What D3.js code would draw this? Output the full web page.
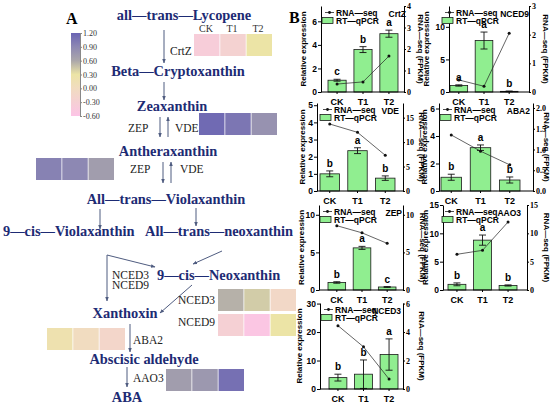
<!DOCTYPE html>
<html><head><meta charset="utf-8">
<script src="https://cdn.jsdelivr.net/npm/d3@7"></script>
<style>body{margin:0;background:#fff}svg{display:block}</style>
</head><body>
<svg id="c" width="550" height="406"></svg>
<script>
// ---------- data ----------
const groups = ["CK", "T1", "T2"];
const colorTicks = [-0.60, -0.30, 0.00, 0.30, 0.60, 0.90, 1.20];

// heatmap values (log-scaled expression), CK / T1 / T2
const heatCrtZ  = [-0.38, -0.25, 0.30];
const heatVDE   = [1.15, 1.05, 0.80];
const heatZEP   = [0.95, 0.90, 0.70];
const heatNCED3 = [0.55, 0.42, -0.10];
const heatNCED9 = [-0.30, -0.55, 0.30];
const heatABA2  = [0.20, 0.00, -0.15];
const heatAAO3  = [0.70, 0.75, 1.10];

// RT-qPCR means, errors, RNA-seq FPKM, significance letters
const qCrtZ  = [1.0, 3.6, 4.95],  eCrtZ  = [0.08, 0.25, 0.3],  sCrtZ  = [0.37, 0.47, 1.67], lCrtZ  = ["c", "b", "a"];
const qNCED9 = [1.0, 7.9, 0.1],   eNCED9 = [0.1, 1.3, 0.05],   sNCED9 = [0.42, 0.2, 2.05],  lNCED9 = ["a", "a", "b"];
const qVDE   = [1.0, 2.35, 0.75], eVDE   = [0.17, 0.17, 0.13], sVDE   = [13.7, 12.0, 7.3],  lVDE   = ["b", "a", "b"];
const qABA2  = [1.0, 3.15, 0.8],  eABA2  = [0.22, 0.2, 0.22],  sABA2  = [1.35, 0.96, 0.63], lABA2  = ["b", "a", "b"];
const qZEP   = [1.0, 5.6, 0.4],   eZEP   = [0.1, 0.2, 0.05],   sZEP   = [8.55, 7.6, 6.2],   lZEP   = ["b", "a", "c"];
const qAAO3  = [1.0, 8.8, 0.8],   eAAO3  = [0.25, 0.9, 0.1],   sAAO3  = [6.3, 7.0, 12.0],   lAAO3  = ["b", "a", "b"];
const qNCED3 = [4.0, 5.2, 12.1],  eNCED3 = [1.2, 5.0, 5.5],    sNCED3 = [4.45, 2.96, 0.7],  lNCED3 = ["b", "b", "a"];

// ---------- setup ----------
const svg = d3.select("#c");
const SERIF = "'Liberation Serif','Times New Roman',serif";
const SANS = "'Liberation Sans',Arial,sans-serif";
const NAVY = "#1d2b74";
const ARROW = "#4f5c80";

const color = d3.scaleLinear().domain(colorTicks)
  .range(["#fcc4e6", "#f5d0d4", "#f1dcc0", "#ece4a6", "#aba7aa", "#8d88b3", "#6a64b3"]);

// ---------- Panel A ----------
const A = svg.append("g");
A.append("text").attr("x", 66).attr("y", 24).text("A")
  .attr("font-family", SERIF).attr("font-weight", "bold").attr("font-size", 16);

// color bar
const cb = d3.scaleLinear().domain([-0.6, 1.2]).range([116, 33]);
const defs = svg.append("defs");
const grad = defs.append("linearGradient").attr("id", "cbg").attr("x1", 0).attr("y1", 1).attr("x2", 0).attr("y2", 0);
colorTicks.forEach(v => grad.append("stop").attr("offset", (v + 0.6) / 1.8).attr("stop-color", color(v)));
A.append("rect").attr("x", 71).attr("y", 33).attr("width", 9).attr("height", 83).attr("fill", "url(#cbg)");
const cbAx = A.append("g").attr("transform", "translate(80,0)")
  .call(d3.axisRight(cb).tickValues(colorTicks).tickFormat(d3.format(".2f")).tickSize(2).tickSizeOuter(0));
cbAx.select(".domain").attr("stroke", "#888");
cbAx.selectAll("line").attr("stroke", "#888");
cbAx.selectAll("text").attr("font-family", SERIF).attr("font-size", 8).attr("fill", "#333").attr("x", 3)
  .text(d => d3.format(".2f")(d).replace("\u2212", "-"));

// arrow marker
defs.append("marker").attr("id", "ah").attr("viewBox", "0 0 10 10").attr("refX", 9).attr("refY", 5)
  .attr("markerWidth", 4.5).attr("markerHeight", 4.5).attr("orient", "auto")
  .append("path").attr("d", "M0,1 L10,5 L0,9 z").attr("fill", ARROW);

const arrows = [
  [[164, 30], [164, 63]],
  [[164, 82], [164, 100]],
  [[160, 117], [160, 137]],
  [[168, 137], [168, 117]],
  [[163, 162], [163, 183]],
  [[171, 183], [171, 162]],
  [[100, 209], [100, 229]],
  [[196, 208], [196, 226]],
  [[107, 255], [107, 301]],
  [[107, 255], [155, 267]],
  [[222, 251], [193, 264]],
  [[192, 285], [160, 313]],
  [[130, 324], [130, 352]],
  [[127, 367], [127, 387]]
];
A.selectAll("line.arr").data(arrows).join("line")
  .attr("x1", d => d[0][0]).attr("y1", d => d[0][1]).attr("x2", d => d[1][0]).attr("y2", d => d[1][1])
  .attr("stroke", ARROW).attr("stroke-width", 1).attr("marker-end", "url(#ah)");

const compounds = [
  ["all\u2014trans\u2014Lycopene", 184, 20, "middle"],
  ["Beta\u2014Cryptoxanthin", 178, 76, "middle"],
  ["Zeaxanthin", 172, 111, "middle"],
  ["Antheraxanthin", 168, 156, "middle"],
  ["All\u2014trans\u2014Violaxanthin", 166, 204, "middle"],
  ["9\u2014cis\u2014Violaxanthin", 3, 236, "start"],
  ["All\u2014trans\u2014neoxanthin", 145, 236, "start"],
  ["9\u2014cis\u2014Neoxanthin", 157, 280, "start"],
  ["Xanthoxin", 125, 318, "middle"],
  ["Abscisic aldehyde", 144, 364, "middle"],
  ["ABA", 127, 402, "middle"]
];
A.selectAll("text.cmp").data(compounds).join("text")
  .attr("x", d => d[1]).attr("y", d => d[2]).attr("text-anchor", d => d[3]).text(d => d[0])
  .attr("font-family", SERIF).attr("font-weight", "bold").attr("font-size", 14.4).attr("fill", NAVY);

const enzymes = [
  ["CrtZ", 170, 55], ["ZEP", 128, 132], ["VDE", 175, 132], ["ZEP", 130, 173], ["VDE", 180, 173],
  ["NCED3", 112, 279], ["NCED9", 112, 289], ["NCED3", 178, 304], ["NCED9", 178, 326],
  ["ABA2", 133, 344], ["AAO3", 133, 382]
];
A.selectAll("text.enz").data(enzymes).join("text")
  .attr("x", d => d[1]).attr("y", d => d[2]).text(d => d[0])
  .attr("font-family", SERIF).attr("font-size", 11.5).attr("fill", "#222");

A.selectAll("text.grp").data(groups).join("text")
  .attr("x", (d, i) => 206 + i * 26).attr("y", 32).attr("text-anchor", "middle").text(d => d)
  .attr("font-family", SERIF).attr("font-size", 10).attr("fill", "#333");

const heatmaps = [
  [heatCrtZ, 194, 34],
  [heatVDE, 199, 113],
  [heatZEP, 36, 158],
  [heatNCED3, 218, 289],
  [heatNCED9, 218, 314],
  [heatABA2, 47, 328],
  [heatAAO3, 166, 369]
];
const hx = d3.scaleBand().domain(groups).range([0, 78]).paddingInner(0.03);
heatmaps.forEach(([vals, x0, y0]) => {
  A.append("g").attr("transform", `translate(${x0},${y0})`)
    .selectAll("rect").data(vals).join("rect")
    .attr("x", (d, i) => hx(groups[i])).attr("width", hx.bandwidth()).attr("y", 0).attr("height", 22)
    .attr("fill", d => color(d));
});

// ---------- Panel B ----------
const B = svg.append("g");
B.append("text").attr("x", 289).attr("y", 23).text("B")
  .attr("font-family", SERIF).attr("font-weight", "bold").attr("font-size", 16);

const panels = [
  {gene: "CrtZ", q: qCrtZ, e: eCrtZ, s: sCrtZ, l: lCrtZ, x0: 321, x1: 404, bx: [328, 398], y0: 6, y1: 92, lmax: 7.3, lt: [0, 2, 4, 6], rmax: 4, rt: [0, 1, 2, 3, 4], rf: "d", gx: 406, lgx: 322, ltx: 306, rtx: 418},
  {gene: "NCED9", q: qNCED9, e: eNCED9, s: sNCED9, l: lNCED9, x0: 449, x1: 529, bx: [450, 518], y0: 6, y1: 92, lmax: 13.2, lt: [0, 5, 10], rmax: 3, rt: [0, 1, 2, 3], rf: "d", gx: 529, lgx: 442, ltx: 429, rtx: 543},
  {gene: "VDE", q: qVDE, e: eVDE, s: sVDE, l: lVDE, x0: 317, x1: 403, bx: [320, 395], y0: 103, y1: 191, lmax: 5.13, lt: [0, 1, 2, 3, 4, 5], rmax: 18, rt: [0, 5, 10, 15], rf: "d", gx: 399, lgx: 320, ltx: 305, rtx: 419},
  {gene: "ABA2", q: qABA2, e: eABA2, s: sABA2, l: lABA2, x0: 439, x1: 533, bx: [441, 520], y0: 103, y1: 191, lmax: 6.4, lt: [0, 2, 4, 6], rmax: 2.12, rt: [0, 0.5, 1, 1.5, 2], rf: ".1f", gx: 530, lgx: 440, ltx: 427, rtx: 544},
  {gene: "ZEP", q: qZEP, e: eZEP, s: sZEP, l: lZEP, x0: 319, x1: 403, bx: [328, 396], y0: 205, y1: 290, lmax: 11.3, lt: [0, 5, 10], rmax: 11.3, rt: [0, 5, 10], rf: "d", gx: 402, lgx: 320, ltx: 304, rtx: 420},
  {gene: "AAO3", q: qAAO3, e: eAAO3, s: sAAO3, l: lAAO3, x0: 443, x1: 527, bx: [448, 517], y0: 205, y1: 290, lmax: 15, lt: [0, 5, 10, 15], rmax: 15, rt: [0, 5, 10, 15], rf: "d", gx: 521, lgx: 442, ltx: 428, rtx: 544},
  {gene: "NCED3", q: qNCED3, e: eNCED3, s: sNCED3, l: lNCED3, x0: 320, x1: 403, bx: [329, 398], y0: 303, y1: 389, lmax: 30.2, lt: [0, 10, 20, 30], rmax: 6.04, rt: [0, 2, 4, 6], rf: "d", gx: 401, lgx: 321, ltx: 302, rtx: 419}
];

function styleAxis(g, size) {
  g.selectAll("text").attr("font-family", SANS).attr("font-weight", "bold").attr("font-size", size).attr("fill", "#000");
  g.selectAll("line,path").attr("stroke", "#000").attr("stroke-width", 1);
}

panels.forEach(p => {
  const g = B.append("g");
  const x = d3.scaleBand().domain(groups).range(p.bx).paddingInner(0.3).paddingOuter(0);
  const yl = d3.scaleLinear().domain([0, p.lmax]).range([p.y1, p.y0]);
  const yr = d3.scaleLinear().domain([0, p.rmax]).range([p.y1, p.y0]);
  const cx = (i) => x(groups[i]) + x.bandwidth() / 2;

  g.selectAll("rect.bar").data(p.q).join("rect")
    .attr("x", (d, i) => x(groups[i])).attr("width", x.bandwidth())
    .attr("y", d => yl(d)).attr("height", d => p.y1 - yl(d))
    .attr("fill", "#90ee90").attr("stroke", "#1a1a1a").attr("stroke-width", 0.8);

  // error bars
  const eb = g.selectAll("g.eb").data(p.q).join("g");
  eb.append("line").attr("x1", (d, i) => cx(i)).attr("x2", (d, i) => cx(i))
    .attr("y1", (d, i) => yl(Math.max(0, d - p.e[i]))).attr("y2", (d, i) => yl(d + p.e[i]));
  eb.append("line").attr("x1", (d, i) => cx(i) - 3.5).attr("x2", (d, i) => cx(i) + 3.5)
    .attr("y1", (d, i) => yl(d + p.e[i])).attr("y2", (d, i) => yl(d + p.e[i]));
  eb.append("line").attr("x1", (d, i) => cx(i) - 3.5).attr("x2", (d, i) => cx(i) + 3.5)
    .attr("y1", (d, i) => yl(Math.max(0, d - p.e[i]))).attr("y2", (d, i) => yl(Math.max(0, d - p.e[i])));
  eb.selectAll("line").attr("stroke", "#111").attr("stroke-width", 0.9);

  // letters
  g.selectAll("text.let").data(p.l).join("text")
    .attr("x", (d, i) => cx(i)).attr("y", (d, i) => yl(p.q[i] + p.e[i]) - 4)
    .attr("text-anchor", "middle").text(d => d)
    .attr("font-family", SANS).attr("font-weight", "bold").attr("font-size", 10);

  // RNA-seq line
  g.append("path").datum(p.s)
    .attr("d", d3.line().x((d, i) => cx(i)).y(d => yr(d)))
    .attr("fill", "none").attr("stroke", "#222").attr("stroke-width", 0.7);
  g.selectAll("circle").data(p.s).join("circle")
    .attr("cx", (d, i) => cx(i)).attr("cy", d => yr(d)).attr("r", 1.5).attr("fill", "#111");

  // axes
  const la = g.append("g").attr("transform", `translate(${p.x0},0)`)
    .call(d3.axisLeft(yl).tickValues(p.lt).tickFormat(d3.format("d")).tickSize(3).tickSizeOuter(0));
  styleAxis(la, 8.5);
  la.selectAll("text").attr("x", -4);
  const ra = g.append("g").attr("transform", `translate(${p.x1},0)`)
    .call(d3.axisRight(yr).tickValues(p.rt).tickFormat(d3.format(p.rf)).tickSize(2).tickSizeOuter(0));
  styleAxis(ra, 8);
  ra.selectAll("text").attr("font-family", SERIF).attr("x", 3);
  const ba = g.append("g").attr("transform", `translate(0,${p.y1})`)
    .call(d3.axisBottom(x).tickSize(2).tickSizeOuter(0));
  ba.select(".domain").attr("d", `M${p.x0},0H${p.x1}`);
  styleAxis(ba, 9);
  ba.selectAll("text").attr("dy", "0.9em");

  // axis titles
  g.append("text").attr("transform", `translate(${p.ltx},${(p.y0 + p.y1) / 2}) rotate(-90)`)
    .attr("text-anchor", "middle").text("Relative expression")
    .attr("font-family", SANS).attr("font-weight", "bold").attr("font-size", 8);
  g.append("text").attr("transform", `translate(${p.rtx},${(p.y0 + p.y1) / 2}) rotate(90)`)
    .attr("text-anchor", "middle").text("RNA\u2014seq (FPKM)")
    .attr("font-family", SANS).attr("font-weight", "bold").attr("font-size", 8);

  // legend
  g.append("line").attr("x1", p.lgx + 3).attr("x2", p.lgx + 12).attr("y1", p.y0 + 6.5).attr("y2", p.y0 + 6.5)
    .attr("stroke", "#222").attr("stroke-width", 0.8);
  g.append("circle").attr("cx", p.lgx + 7.5).attr("cy", p.y0 + 6.5).attr("r", 1.4).attr("fill", "#111");
  g.append("rect").attr("x", p.lgx).attr("y", p.y0 + 11.5).attr("width", 11).attr("height", 6)
    .attr("fill", "#90ee90").attr("stroke", "#1a1a1a").attr("stroke-width", 0.8);
  g.append("text").attr("x", p.lgx + 14).attr("y", p.y0 + 9.5).text("RNA\u2014seq")
    .attr("font-family", SANS).attr("font-weight", "bold").attr("font-size", 8.5);
  g.append("text").attr("x", p.lgx + 14).attr("y", p.y0 + 18).text("RT\u2014qPCR")
    .attr("font-family", SANS).attr("font-weight", "bold").attr("font-size", 8.5);
  g.append("text").attr("x", p.gx).attr("y", p.y0 + 11).attr("text-anchor", "end").text(p.gene)
    .attr("font-family", SANS).attr("font-weight", "bold").attr("font-size", 8.5);
});
</script>
</body></html>
